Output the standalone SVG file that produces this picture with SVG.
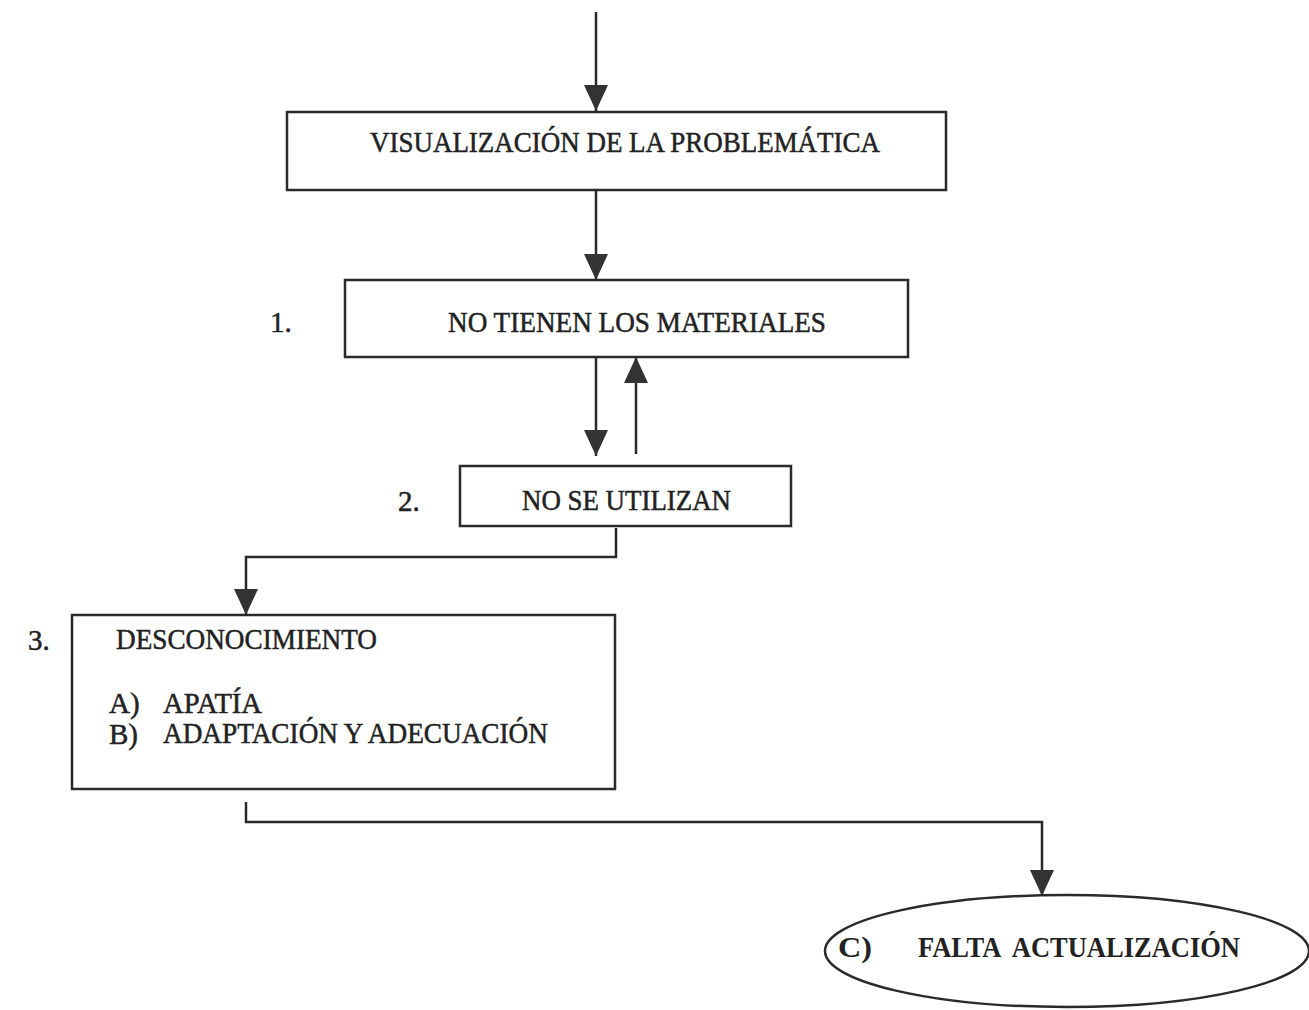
<svg xmlns="http://www.w3.org/2000/svg" width="1309" height="1010" viewBox="0 0 1309 1010">
<style>
.box{fill:#fff;stroke:#2a2a2a;stroke-width:2.5}
.t{font-family:"Liberation Serif","Times New Roman",serif;font-size:29px;fill:#222;stroke:#222;stroke-width:0.5}
.c{fill:none;stroke:#2a2a2a;stroke-width:2.5}
</style>
<defs>
<marker id="a" markerUnits="userSpaceOnUse" markerWidth="26" markerHeight="24" viewBox="0 0 26 24" refX="26" refY="12" orient="auto">
<path d="M0,0 L26,12 L0,24 Z" fill="#333"/>
</marker>
</defs>
<rect width="1309" height="1010" fill="#fff"/>
<g id="connectors">
<line class="c" x1="596" y1="12" x2="596" y2="111" marker-end="url(#a)"/>
<line class="c" x1="596" y1="190" x2="596" y2="280" marker-end="url(#a)"/>
<line class="c" x1="596" y1="357" x2="596" y2="456" marker-end="url(#a)"/>
<line class="c" x1="636" y1="454" x2="636" y2="357" marker-end="url(#a)"/>
<polyline class="c" points="616,528 616,557 246,557 246,615" marker-end="url(#a)"/>
<polyline class="c" points="246,802 246,822 1042,822 1042,896" marker-end="url(#a)"/>
</g>
<g id="n1">
<rect class="box" x="287" y="112" width="659" height="78"/>
<text class="t" x="370" y="152" textLength="510" lengthAdjust="spacingAndGlyphs">VISUALIZACIÓN DE LA PROBLEMÁTICA</text>
</g>
<g id="n2">
<rect class="box" x="345" y="280" width="563" height="77"/>
<text class="t" x="270" y="332">1.</text>
<text class="t" x="448" y="332" textLength="378" lengthAdjust="spacingAndGlyphs">NO TIENEN LOS MATERIALES</text>
</g>
<g id="n3">
<rect class="box" x="460" y="466" width="331" height="60"/>
<text class="t" x="398" y="511">2.</text>
<text class="t" x="522" y="510" textLength="209" lengthAdjust="spacingAndGlyphs">NO SE UTILIZAN</text>
</g>
<g id="n4">
<rect class="box" x="72" y="615" width="543" height="174"/>
<text class="t" x="28" y="650">3.</text>
<text class="t" x="116" y="649" textLength="261" lengthAdjust="spacingAndGlyphs">DESCONOCIMIENTO</text>
<text class="t" x="109" y="713">A)</text>
<text class="t" x="163" y="713" textLength="99" lengthAdjust="spacingAndGlyphs">APATÍA</text>
<text class="t" x="109" y="744">B)</text>
<text class="t" x="163" y="743" textLength="385" lengthAdjust="spacingAndGlyphs">ADAPTACIÓN Y ADECUACIÓN</text>
</g>
<g id="n5">
<ellipse class="box" cx="1067" cy="951" rx="242" ry="56"/>
<text class="t" x="838" y="957" style="font-size:30px;font-weight:bold;stroke-width:0" textLength="34" lengthAdjust="spacingAndGlyphs">C)</text>
<text class="t" x="918" y="957" style="font-size:30px;font-weight:bold;stroke-width:0;white-space:pre" textLength="322" lengthAdjust="spacingAndGlyphs">FALTA  ACTUALIZACIÓN</text>
</g>
</svg>
